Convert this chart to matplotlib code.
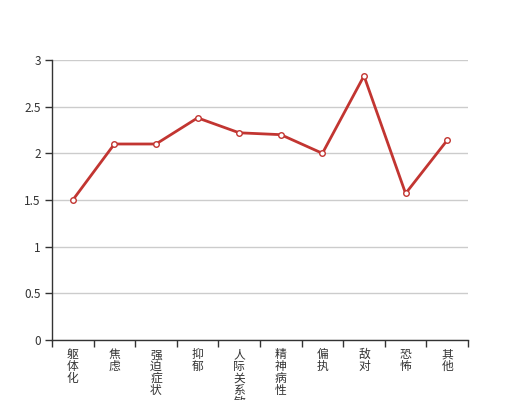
import matplotlib
matplotlib.use("Agg")
import matplotlib.pyplot as plt

plt.rcParams['font.family'] = ['Noto Sans CJK SC', 'DejaVu Sans']

categories = ["躯体化", "焦虑", "强迫症状", "抑郁", "人际关系敏感", "精神病性", "偏执", "敌对", "恐怖", "其他"]
values = [1.5, 2.1, 2.1, 2.38, 2.22, 2.2, 2.0, 2.83, 1.57, 2.14]
yticks = [0, 0.5, 1, 1.5, 2, 2.5, 3]
ytick_labels = ["0", "0.5", "1", "1.5", "2", "2.5", "3"]

fig = plt.figure(figsize=(5.2, 4.0), dpi=100)
ax = fig.add_axes([0.1, 0.15, 0.8, 0.70])

x = list(range(len(categories)))
ax.plot(x, values, color="#c23531", linewidth=2, marker="o", markersize=4,
        markerfacecolor="white", markeredgecolor="#c23531", markeredgewidth=1, zorder=3, clip_on=False)

ax.set_xlim(-0.5, len(categories) - 0.5)
ax.set_ylim(0, 3)
ax.set_yticks(yticks)
ax.set_yticklabels(ytick_labels, fontsize=8.5, color="#333333")
ax.yaxis.grid(True, color="#cccccc", linewidth=1)
ax.set_axisbelow(True)

ax.set_xticks(x)
ax.set_xticklabels(["\n".join(c) for c in categories], fontsize=8.5, color="#333333",
                   va="top", linespacing=0.88)
ax.tick_params(axis="x", which="major", length=0, pad=6)
ax.set_xticks([i - 0.5 for i in range(len(categories) + 1)], minor=True)
ax.tick_params(axis="x", which="minor", length=5, color="#333333", width=1)
ax.tick_params(axis="y", length=5, color="#333333", width=1, pad=3)

for s in ["top", "right"]:
    ax.spines[s].set_visible(False)
for s in ["left", "bottom"]:
    ax.spines[s].set_color("#333333")
    ax.spines[s].set_linewidth(1)

fig.savefig("out.png", dpi=100)
